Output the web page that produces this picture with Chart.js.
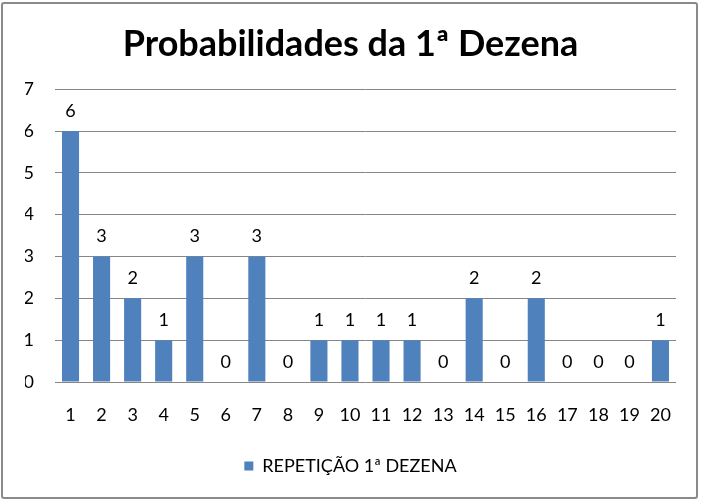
<!DOCTYPE html>
<html>
<head>
<meta charset="utf-8">
<script src="https://cdn.jsdelivr.net/npm/chart.js@4"></script>
<style>
    html, body { margin: 0; padding: 0; background: #fff; }
    #wrap { position: relative; width: 701px; height: 501px; }
    #frame { position: absolute; left: 1px; top: 2px; width: 693px; height: 493px;
             border: 2px solid #8a8a8a; border-radius: 3px; pointer-events: none; }
</style>
</head>
<body>
<div id="wrap">
    <canvas id="chart" width="701" height="501"></canvas>
    <div id="frame"></div>
</div>
<script>
    // Dados do gráfico
    const dezenas = ["1", "2", "3", "4", "5", "6", "7", "8", "9", "10",
                     "11", "12", "13", "14", "15", "16", "17", "18", "19", "20"];
    const repeticoes = [6, 3, 2, 1, 3, 0, 3, 0, 1, 1, 1, 1, 0, 2, 0, 2, 0, 0, 0, 1];
    const tituloGrafico = "Probabilidades da 1ª Dezena";
    const nomeSerie = "REPETIÇÃO 1ª DEZENA";

    const fonte = "Lato, 'Open Sans', sans-serif";

    // Rótulos de valor acima de cada barra
    const rotulosPlugin = {
        id: 'rotulos',
        afterDatasetsDraw(chart) {
            const ctx = chart.ctx;
            const meta = chart.getDatasetMeta(0);
            ctx.save();
            ctx.font = "18px " + fonte;
            ctx.fillStyle = "#000";
            ctx.textAlign = "center";
            ctx.textBaseline = "middle";
            meta.data.forEach((bar, i) => {
                const p = bar.getProps(['x', 'y'], true);
                ctx.fillText(String(repeticoes[i]), p.x, p.y - 20);
            });
            ctx.restore();
        }
    };

    const ctx = document.getElementById('chart').getContext('2d');
    new Chart(ctx, {
        type: 'bar',
        data: {
            labels: dezenas,
            datasets: [{
                label: nomeSerie,
                data: repeticoes,
                backgroundColor: '#4f81bd',
                borderWidth: 0,
                barPercentage: 0.55,
                categoryPercentage: 1
            }]
        },
        options: {
            responsive: false,
            animation: false,
            layout: { padding: { left: 25, right: 25, top: 0, bottom: 16 } },
            plugins: {
                title: {
                    display: true,
                    text: tituloGrafico,
                    color: '#000',
                    font: { family: fonte, size: 36, weight: 'bold' },
                    padding: { top: 23, bottom: 23 }
                },
                legend: {
                    position: 'bottom',
                    labels: {
                        color: '#000',
                        font: { family: fonte, size: 18 },
                        boxWidth: 9,
                        boxHeight: 9,
                        padding: 10
                    }
                },
                tooltip: { enabled: false }
            },
            scales: {
                x: {
                    grid: { display: false, drawTicks: false },
                    border: { display: false },
                    ticks: { color: '#000', font: { family: fonte, size: 18 }, padding: 22, maxRotation: 0 },
                    afterFit(scale) { scale.height = 65; }
                },
                y: {
                    min: 0,
                    max: 7,
                    ticks: { stepSize: 1, color: '#000', font: { family: fonte, size: 18 }, padding: 21 },
                    grid: { color: '#868686', drawTicks: false },
                    border: { display: false },
                    afterFit(scale) { scale.width = 30; }
                }
            }
        },
        plugins: [rotulosPlugin]
    });
</script>
</body>
</html>
